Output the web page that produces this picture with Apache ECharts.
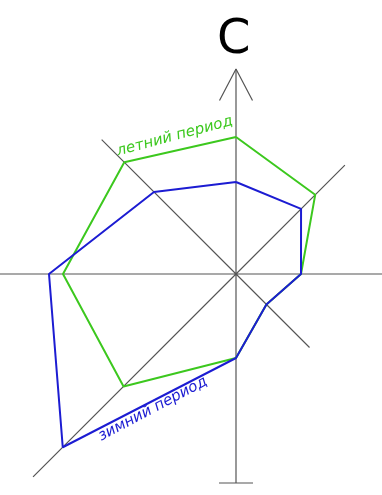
<!DOCTYPE html>
<html>
<head>
<meta charset="utf-8">
<script src="https://cdn.jsdelivr.net/npm/echarts@6/dist/echarts.min.js"></script>
<style>
html,body{margin:0;padding:0;background:#fff;}
#chart{width:382px;height:495px;}
</style>
</head>
<body>
<div id="chart"></div>
<script>
// румбы (по часовой стрелке от севера)
var directions = ['С', 'СВ', 'В', 'ЮВ', 'Ю', 'ЮЗ', 'З', 'СЗ'];
var summer = [137, 112, 65, 43, 84, 159, 173, 158];   // летний период
var winter = [92, 92, 65, 43, 84, 245, 187, 116];     // зимний период
// длина лучей осей по тем же направлениям
var rays = [205, 154, 146, 104, 209, 287, 236, 190];

var chart = echarts.init(document.getElementById('chart'));

function toXY(r, i){
    var a = i * Math.PI / 4;
    return [r * Math.sin(a), r * Math.cos(a)];
}

function rose(arr){
    var pts = [];
    for(var i=0;i<arr.length;i++){
        pts.push(toXY(arr[i], i));
    }
    pts.push(pts[0]);
    return pts;
}

var axisStyle = {color:'#555', width:1.2};
var series = [];

// оси: луч + противоположный луч через центр
for(var i=0;i<4;i++){
    series.push({
        type:'line',
        symbol:'none',
        silent:true,
        lineStyle:axisStyle,
        data:[toXY(rays[i], i), [0,0], toXY(rays[i+4], i+4)]
    });
}
// стрелка на севере
var tip = rays[0];
series.push({
    type:'line', symbol:'none', silent:true, lineStyle:axisStyle,
    data:[[-16.5, tip-31.5], [0, tip], [16.5, tip-31.5]]
});
// черта внизу
series.push({
    type:'line', symbol:'none', silent:true, lineStyle:axisStyle,
    data:[[-17, -rays[4]], [17, -rays[4]]]
});
series.push({
    type:'scatter', symbol:'circle', symbolSize:3, silent:true,
    itemStyle:{color:'#222'}, data:[[0,0]]
});

series.push({
    name:'летний период',
    type:'line',
    symbol:'none',
    lineStyle:{color:'#3cc81e', width:2},
    data:rose(summer)
});
series.push({
    name:'зимний период',
    type:'line',
    symbol:'none',
    lineStyle:{color:'#1c1cd2', width:2},
    data:rose(winter)
});

option = {
    animation:false,
    grid:{left:0, top:0, width:382, height:495},
    xAxis:{type:'value', min:-236, max:146, show:false},
    yAxis:{type:'value', min:-221, max:274, show:false},
    graphic:[
        {
            type:'text', left:217, top:17,
            style:{text:'С', font:'48px "DejaVu Sans"', fill:'#000'}
        },
        {
            type:'text', x:119, y:159, rotation:15*Math.PI/180,
            style:{text:'летний период', font:'italic 15px "DejaVu Sans"', fill:'#3cc81e',
                   textAlign:'left', textVerticalAlign:'bottom'}
        },
        {
            type:'text', x:103, y:444, rotation:28*Math.PI/180,
            style:{text:'зимний период', font:'italic 15px "DejaVu Sans"', fill:'#1c1cd2',
                   textAlign:'left', textVerticalAlign:'bottom'}
        }
    ],
    series:series
};

chart.setOption(option);
</script>
</body>
</html>
